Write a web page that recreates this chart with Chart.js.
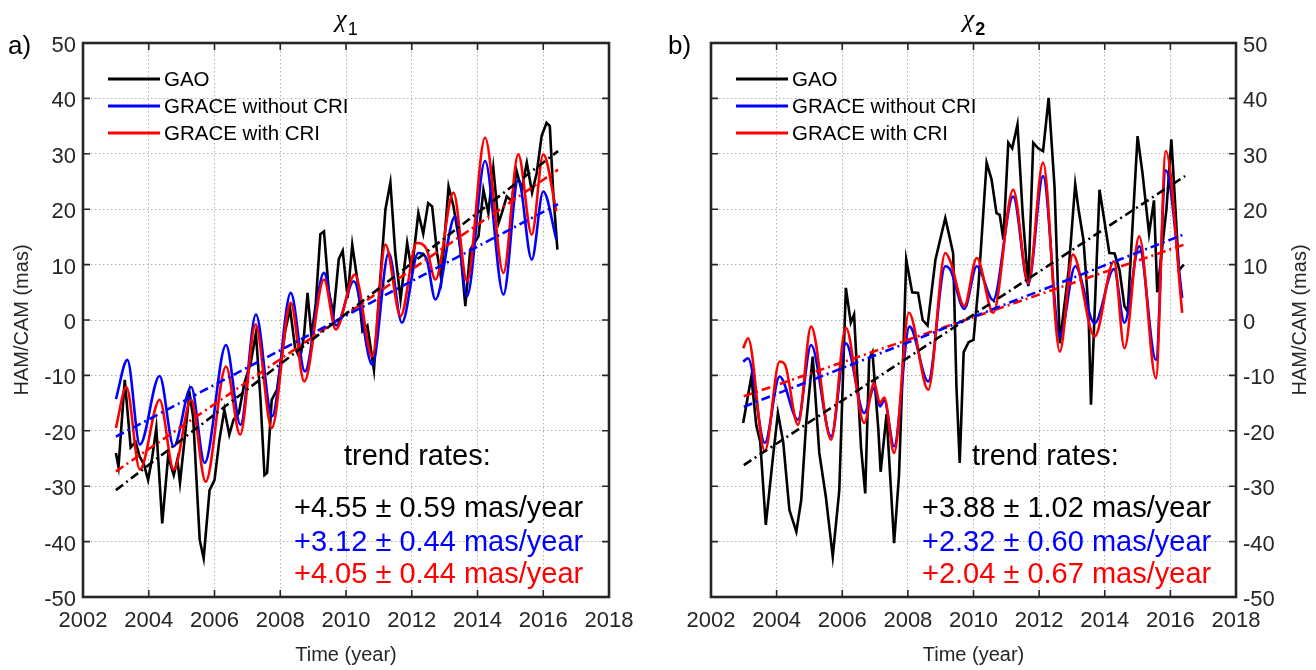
<!DOCTYPE html>
<html>
<head>
<meta charset="utf-8">
<script src="https://cdn.jsdelivr.net/npm/chart.js@4.4.1/dist/chart.umd.min.js"></script>
<style>
  html, body { margin: 0; padding: 0; background: #ffffff; }
  #wrap { position: relative; width: 1316px; height: 670px; overflow: hidden; }
  canvas { position: absolute; top: 0; }
  #panelA { left: 0; }
  #panelB { left: 658px; }
</style>
</head>
<body>
<div id="wrap">
  <canvas id="panelA" width="658" height="670"></canvas>
  <canvas id="panelB" width="658" height="670"></canvas>
</div>
<script>
// ---------- axis ticks ----------
const yearTicks = [2002, 2004, 2006, 2008, 2010, 2012, 2014, 2016, 2018];
const masTicks = [-50, -40, -30, -20, -10, 0, 10, 20, 30, 40, 50];

// ---------- series names and colours ----------
const seriesNames = ['GAO', 'GRACE without CRI', 'GRACE with CRI'];
const seriesColors = ['#000000', '#0000ff', '#ff0000'];

// ---------- chi_1 : GAO ----------
const chi1GaoTime = [2003.00, 2003.08, 2003.27, 2003.45, 2003.60, 2003.72, 2003.85, 2003.98, 2004.10, 2004.23,
  2004.41, 2004.59, 2004.76, 2004.87, 2004.95, 2005.24, 2005.35, 2005.55, 2005.67, 2005.85,
  2006.00, 2006.15, 2006.30, 2006.45, 2006.58, 2006.74, 2006.91, 2007.10, 2007.26, 2007.40,
  2007.52, 2007.60, 2007.74, 2007.90, 2008.00, 2008.15, 2008.30, 2008.45, 2008.60, 2008.72,
  2008.83, 2008.95, 2009.08, 2009.22, 2009.33, 2009.48, 2009.62, 2009.78, 2009.90, 2010.05,
  2010.19, 2010.35, 2010.50, 2010.65, 2010.85, 2011.00, 2011.20, 2011.35, 2011.50, 2011.66,
  2011.86, 2012.00, 2012.20, 2012.35, 2012.50, 2012.62, 2012.77, 2012.90, 2013.12, 2013.27,
  2013.47, 2013.63, 2013.78, 2014.03, 2014.18, 2014.33, 2014.48, 2014.64, 2014.74, 2014.89,
  2015.04, 2015.19, 2015.34, 2015.50, 2015.66, 2015.80, 2015.95, 2016.10, 2016.20, 2016.30, 2016.43];
const chi1GaoVal = [-24.0, -26.5, -10.8, -23.0, -22.0, -24.6, -26.0, -28.9, -25.0, -19.5,
  -36.7, -24.6, -28.0, -25.2, -29.4, -13.2, -17.5, -39.7, -43.0, -30.7,
  -28.9, -21.6, -16.2, -20.7, -18.0, -16.8, -11.4, -7.8, -2.4, -14.4,
  -28.0, -27.6, -14.4, -12.6, -8.4, -2.0, 2.0, -5.0, -7.0, -3.0,
  4.9, -3.0, 3.0, 15.5, 16.0, 5.0, 1.0, 11.0, 12.5, 4.0,
  13.6, 7.0, -2.0, -1.0, -9.0, 4.0, 20.0, 24.8, 12.0, 3.7,
  13.9, 8.8, 19.3, 15.6, 21.1, 20.5, 12.1, 7.3, 24.1, 20.5,
  13.3, 2.5, 12.7, 15.1, 23.5, 19.3, 27.5, 17.5, 19.3, 22.3,
  21.5, 26.9, 23.5, 28.4, 23.0, 26.5, 33.2, 35.6, 35.0, 23.4, 12.7];

// ---------- chi_1 : GRACE without CRI ----------
const chi1NoCriTime = [2003.00, 2003.35, 2003.73, 2004.33, 2004.76, 2005.29, 2005.70, 2006.35, 2006.79, 2007.26,
  2007.75, 2008.32, 2008.75, 2009.33, 2009.70, 2010.24, 2010.80, 2011.30, 2011.70, 2012.20,
  2012.45, 2012.72, 2013.32, 2013.68, 2014.23, 2014.79, 2015.24, 2015.65, 2016.00, 2016.40];
const chi1NoCriVal = [-14.3, -7.2, -22.5, -10.1, -22.8, -12.1, -25.8, -4.5, -18.9, 1.0,
  -17.4, 4.9, -9.3, 8.5, -1.0, 7.0, -8.1, 12.1, -0.5, 12.1,
  11.0, 3.7, 18.7, 4.3, 28.7, 4.6, 25.4, 10.9, 23.2, 14.5];

// ---------- chi_1 : GRACE with CRI ----------
const chi1CriTime = [2003.00, 2003.32, 2003.73, 2004.33, 2004.76, 2005.29, 2005.73, 2006.35, 2006.78, 2007.25,
  2007.74, 2008.32, 2008.73, 2009.33, 2009.69, 2010.27, 2010.80, 2011.20, 2011.66, 2012.15,
  2012.45, 2012.72, 2013.27, 2013.68, 2014.23, 2014.79, 2015.24, 2015.65, 2016.00, 2016.40];
const chi1CriVal = [-19.5, -12.1, -27.0, -14.4, -27.0, -14.4, -29.2, -8.4, -20.7, -0.8,
  -19.5, 3.1, -11.1, 7.3, -1.7, 8.2, -6.6, 13.6, 0.7, 13.9,
  12.8, 7.3, 23.0, 7.0, 32.9, 8.5, 29.9, 15.4, 29.9, 19.6];

// ---------- chi_2 : GAO ----------
const chi2GaoTime = [2002.98, 2003.23, 2003.38, 2003.50, 2003.67, 2003.89, 2004.04, 2004.20, 2004.39, 2004.60,
  2004.75, 2004.90, 2005.10, 2005.30, 2005.50, 2005.71, 2005.91, 2006.11, 2006.26, 2006.36,
  2006.57, 2006.70, 2006.82, 2006.92, 2007.10, 2007.17, 2007.35, 2007.58, 2007.73, 2007.88,
  2007.95, 2008.13, 2008.31, 2008.45, 2008.60, 2008.84, 2009.14, 2009.27, 2009.38, 2009.48,
  2009.58, 2009.70, 2009.85, 2010.00, 2010.15, 2010.40, 2010.55, 2010.70, 2010.80, 2010.91,
  2011.06, 2011.18, 2011.34, 2011.50, 2011.67, 2011.82, 2011.97, 2012.12, 2012.29, 2012.47,
  2012.63, 2012.90, 2013.10, 2013.20, 2013.35, 2013.50, 2013.58, 2013.84, 2014.00, 2014.14,
  2014.30, 2014.45, 2014.60, 2014.70, 2015.00, 2015.15, 2015.35, 2015.50, 2015.60, 2015.88,
  2016.03, 2016.15, 2016.26, 2016.41];
const chi2GaoVal = [-18.6, -10.2, -19.0, -22.0, -37.0, -24.6, -16.8, -22.0, -34.3, -38.2,
  -32.5, -18.6, -6.6, -24.0, -31.9, -42.7, -30.7, 5.8, -0.5, 1.0,
  -22.8, -31.3, -7.0, -5.8, -19.8, -27.4, -17.0, -40.3, -28.0, -2.4,
  10.9, 5.0, 4.9, 0.0, -1.0, 10.9, 18.4, 15.0, 12.0, -12.0,
  -25.8, -5.8, -4.0, -3.6, 6.1, 28.4, 25.4, 19.3, 19.0, 14.5,
  32.0, 31.0, 35.3, 19.0, 6.1, 32.0, 31.0, 30.5, 40.1, 24.0,
  -4.2, 9.0, 24.5, 20.0, 14.5, 2.5, -15.3, 23.5, 17.5, 12.1,
  12.0, 9.0, 2.5, 1.5, 33.2, 26.5, 15.6, 21.6, 5.0, 20.0,
  32.6, 20.5, 9.0, 10.0];

// ---------- chi_2 : GRACE without CRI ----------
const chi2NoCriTime = [2002.98, 2003.13, 2003.64, 2004.09, 2004.65, 2005.05, 2005.66, 2006.11, 2006.67, 2006.97,
  2007.15, 2007.28, 2007.58, 2008.05, 2008.62, 2009.14, 2009.30, 2009.72, 2010.10, 2010.60,
  2011.21, 2011.67, 2012.12, 2012.63, 2013.10, 2013.69, 2014.28, 2014.60, 2015.05, 2015.56,
  2015.86, 2016.36];
const chi2NoCriVal = [-7.5, -6.9, -22.2, -10.2, -18.0, -4.5, -21.0, -4.2, -16.8, -12.3,
  -15.6, -14.5, -22.8, -1.2, -11.1, 9.7, 9.0, 2.0, 9.7, 3.6,
  22.3, 6.5, 26.0, -3.0, 9.7, -0.6, 9.2, -0.5, 13.3, -7.2,
  27.0, 4.0];

// ---------- chi_2 : GRACE with CRI ----------
const chi2CriTime = [2002.98, 2003.13, 2003.64, 2004.09, 2004.25, 2004.65, 2005.05, 2005.66, 2006.11, 2006.67,
  2006.97, 2007.15, 2007.28, 2007.58, 2008.03, 2008.62, 2009.14, 2009.30, 2009.72, 2010.10,
  2010.60, 2011.21, 2011.67, 2012.12, 2012.63, 2013.03, 2013.69, 2014.28, 2014.60, 2015.05,
  2015.56, 2015.86, 2016.36];
const chi2CriVal = [-5.1, -3.3, -23.7, -7.5, -8.0, -18.9, -1.2, -21.6, -1.4, -18.6,
  -11.4, -15.0, -14.0, -24.0, 1.3, -12.6, 12.1, 10.5, 2.5, 11.2,
  1.3, 23.5, 6.7, 28.4, -5.7, 11.8, -3.0, 10.6, -5.1, 15.1,
  -10.5, 30.5, 1.3];

// ---------- linear trends (mas/year) ----------
const chi1TrendRate = [4.55, 3.12, 4.05];
const chi1TrendErr = [0.59, 0.44, 0.44];
const chi2TrendRate = [3.88, 2.32, 2.04];
const chi2TrendErr = [1.02, 0.60, 0.67];
const trendSpan = [2003.0, 2016.45];   // first and last epoch of the fitted lines
const trendCentre = 2009.75;           // epoch at which each fitted line crosses zero

// ---------- helpers ----------
const FONT = "'Liberation Sans', Arial, Helvetica, sans-serif";
const INK = '#262626';

function pairs(t, v) { return t.map((x, i) => ({ x: x, y: v[i] })); }

function trendLine(rate) {
  return trendSpan.map(t => ({ x: t, y: rate * (t - trendCentre) }));
}

function fmt(v) { return v.toFixed(2); }

// frame, inward ticks, legend, titles and trend-rate text
const panelDecor = {
  id: 'panelDecor',
  afterDraw(chart, args, o) {
    const ctx = chart.ctx;
    const a = chart.chartArea;
    const xs = chart.scales.x;
    const ys = chart.scales.y;
    ctx.save();

    // inward tick marks on all four sides
    ctx.strokeStyle = INK;
    ctx.lineWidth = 1.6;
    ctx.beginPath();
    xs.ticks.forEach(t => {
      const px = xs.getPixelForValue(t.value);
      ctx.moveTo(px, a.bottom); ctx.lineTo(px, a.bottom - 7);
      ctx.moveTo(px, a.top); ctx.lineTo(px, a.top + 7);
    });
    ys.ticks.forEach(t => {
      const py = ys.getPixelForValue(t.value);
      ctx.moveTo(a.left, py); ctx.lineTo(a.left + 7, py);
      ctx.moveTo(a.right, py); ctx.lineTo(a.right - 7, py);
    });
    ctx.stroke();

    // axes box
    ctx.lineWidth = 2.6;
    ctx.strokeRect(a.left, a.top, a.right - a.left, a.bottom - a.top);

    // legend (upper left, no box)
    const ds = chart.data.datasets.filter(d => d.inLegend);
    ds.forEach((d, i) => {
      const y = a.top + 36 + i * 27;
      ctx.strokeStyle = d.borderColor;
      ctx.lineWidth = 3;
      ctx.setLineDash([]);
      ctx.beginPath();
      ctx.moveTo(a.left + 25, y); ctx.lineTo(a.left + 77, y);
      ctx.stroke();
      ctx.fillStyle = '#000000';
      ctx.font = '20.5px ' + FONT;
      ctx.textAlign = 'left';
      ctx.textBaseline = 'middle';
      ctx.fillText(d.label, a.left + 81, y + 1);
    });

    // trend rates
    ctx.textAlign = 'left';
    ctx.textBaseline = 'middle';
    ctx.font = '29px ' + FONT;
    ctx.fillStyle = '#000000';
    ctx.fillText('trend rates:', a.left + 261, 457);
    const rowsY = [509, 543, 575];
    o.rates.forEach((r, i) => {
      ctx.fillStyle = seriesColors[i];
      ctx.fillText('+' + fmt(r) + ' \u00b1 ' + fmt(o.errs[i]) + ' mas/year', a.left + 211, rowsY[i]);
    });

    // panel title: chi with subscript
    const cx = (a.left + a.right) / 2;
    ctx.fillStyle = '#000000';
    ctx.textBaseline = 'alphabetic';
    ctx.font = 'italic 26px "Liberation Serif", "DejaVu Serif", serif';
    const chiW = ctx.measureText('\u03c7').width;
    ctx.font = (o.subBold ? 'bold ' : '') + '18px ' + FONT;
    const subW = ctx.measureText(o.sub).width;
    const x0 = cx - (chiW + subW) / 2;
    ctx.font = 'italic 26px "Liberation Serif", "DejaVu Serif", serif';
    ctx.textAlign = 'left';
    ctx.fillText('\u03c7', x0, 27);
    ctx.font = (o.subBold ? 'bold ' : '') + '18px ' + FONT;
    ctx.fillText(o.sub, x0 + chiW + 1, 35);

    // panel letter
    ctx.font = '26px ' + FONT;
    ctx.textBaseline = 'middle';
    ctx.fillStyle = '#000000';
    ctx.fillText(o.letter, o.letterX, 47);

    // axis titles
    ctx.fillStyle = INK;
    ctx.font = '20px ' + FONT;
    ctx.textAlign = 'center';
    ctx.textBaseline = 'middle';
    ctx.fillText('Time (year)', cx, 655);
    ctx.save();
    ctx.translate(o.yTitleX, (a.top + a.bottom) / 2);
    ctx.rotate(-Math.PI / 2);
    ctx.fillText('HAM/CAM (mas)', 0, 0);
    ctx.restore();

    ctx.restore();
  }
};

function makePanel(canvasId, d) {
  const lineBase = { pointRadius: 0, borderWidth: 2.6, fill: false };
  const datasets = [
    // fitted trends (drawn on top)
    Object.assign({}, lineBase, { label: 'trend GAO', data: trendLine(d.rates[0]), borderColor: seriesColors[0], borderDash: [9, 4, 2, 4], order: 0 }),
    Object.assign({}, lineBase, { label: 'trend GRACE without CRI', data: trendLine(d.rates[1]), borderColor: seriesColors[1], borderDash: [9, 4, 2, 4], order: 1 }),
    Object.assign({}, lineBase, { label: 'trend GRACE with CRI', data: trendLine(d.rates[2]), borderColor: seriesColors[2], borderDash: [9, 4, 2, 4], order: 2 }),
    // time series
    Object.assign({}, lineBase, { label: seriesNames[0], data: d.gao, borderColor: seriesColors[0], tension: 0, order: 5, inLegend: true }),
    Object.assign({}, lineBase, { label: seriesNames[1], data: d.noCri, borderColor: seriesColors[1], cubicInterpolationMode: 'monotone', order: 4, inLegend: true }),
    Object.assign({}, lineBase, { label: seriesNames[2], data: d.cri, borderColor: seriesColors[2], cubicInterpolationMode: 'monotone', order: 3, inLegend: true })
  ];

  const tickFont = { family: FONT, size: 22 };
  const gridOpts = { color: 'rgba(0,0,0,0.3)', lineWidth: 1, drawTicks: false };
  return new Chart(document.getElementById(canvasId), {
    type: 'line',
    data: { datasets: datasets },
    options: {
      responsive: false,
      animation: false,
      devicePixelRatio: 1,
      events: [],
      layout: { padding: d.padding },
      plugins: {
        legend: { display: false },
        tooltip: { enabled: false },
        title: { display: false },
        panelDecor: d.decor
      },
      scales: {
        x: {
          type: 'linear',
          min: yearTicks[0],
          max: yearTicks[yearTicks.length - 1],
          afterBuildTicks: s => { s.ticks = yearTicks.map(v => ({ value: v })); },
          afterFit: s => { s.height = 40; },
          grid: gridOpts,
          border: { display: false, dash: [1.5, 2.5] },
          ticks: { padding: 11, color: INK, font: tickFont, maxRotation: 0, autoSkip: false, callback: v => String(v) }
        },
        y: {
          type: 'linear',
          position: d.yPos,
          min: masTicks[0],
          max: masTicks[masTicks.length - 1],
          afterBuildTicks: s => { s.ticks = masTicks.map(v => ({ value: v })); },
          afterFit: s => { s.width = 50; },
          grid: gridOpts,
          border: { display: false, dash: [1.5, 2.5] },
          ticks: { padding: 7, labelOffset: 3, color: INK, font: tickFont, autoSkip: false, callback: v => String(v) }
        }
      }
    },
    plugins: [panelDecor]
  });
}

makePanel('panelA', {
  gao: pairs(chi1GaoTime, chi1GaoVal),
  noCri: pairs(chi1NoCriTime, chi1NoCriVal),
  cri: pairs(chi1CriTime, chi1CriVal),
  rates: chi1TrendRate,
  yPos: 'left',
  padding: { left: 33, right: 49, top: 43, bottom: 33 },
  decor: { rates: chi1TrendRate, errs: chi1TrendErr, sub: '1', subBold: false, letter: 'a)', letterX: 8, yTitleX: 22 }
});

makePanel('panelB', {
  gao: pairs(chi2GaoTime, chi2GaoVal),
  noCri: pairs(chi2NoCriTime, chi2NoCriVal),
  cri: pairs(chi2CriTime, chi2CriVal),
  rates: chi2TrendRate,
  yPos: 'right',
  padding: { left: 53, right: 30, top: 43, bottom: 33 },
  decor: { rates: chi2TrendRate, errs: chi2TrendErr, sub: '2', subBold: true, letter: 'b)', letterX: 10, yTitleX: 642 }
});
</script>
</body>
</html>
